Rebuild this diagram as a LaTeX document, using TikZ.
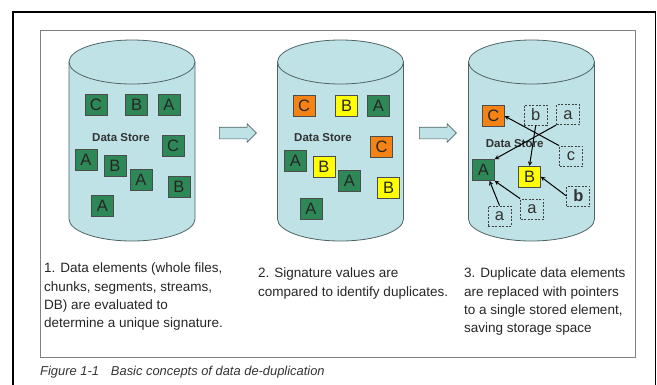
\documentclass[tikz,border=0pt]{standalone}
\usepackage{fontspec}
\setmainfont{Liberation Sans}
\usepackage{xcolor}
\usepackage{tikz}
\usetikzlibrary{arrows.meta, positioning}
\usetikzlibrary{shapes.arrows}

\definecolor{storefill}{RGB}{191,226,230}
\definecolor{storeline}{RGB}{80,100,100}
\definecolor{elgreen}{RGB}{46,135,86}
\definecolor{elorange}{RGB}{245,130,20}
\definecolor{elyellow}{RGB}{255,255,0}
\definecolor{boxgray}{RGB}{128,128,128}

\tikzset{
  store/.style = {fill=storefill, draw=storeline, line width=0.8pt},
  elem/.style = {draw=black!70, line width=0.6pt, minimum width=22pt, minimum height=21pt,
                 inner sep=0pt, font=\fontsize{16.5}{16.5}\selectfont, text=black!85},
  elg/.style = {elem, fill=elgreen},
  elo/.style = {elem, fill=elorange},
  ely/.style = {elem, fill=elyellow},
  dup/.style = {draw=black!75, dash pattern=on 2pt off 1.5pt, line width=0.8pt,
                minimum width=23pt, minimum height=20pt, inner sep=0pt,
                font=\fontsize{16.5}{16.5}\selectfont, text=black!80},
  storelabel/.style = {font=\fontsize{11.5}{12}\selectfont\bfseries, text=black!80},
  flow/.style = {single arrow, draw=storeline, fill=storefill, line width=0.6pt,
                 minimum height=37pt, single arrow head extend=3.5pt,
                 inner xsep=0pt, inner ysep=5.5pt},
  note/.style = {anchor=north west, inner sep=0pt, align=left,
                 font=\fontsize{13.5}{18.3}\selectfont, text=black!85}
}

% one data store drum, centred at x = #1
\newcommand{\datastore}[1]{%
  \draw[store] (#1-63,62) -- (#1-63,219)
    arc[start angle=180, end angle=360, x radius=63pt, y radius=22pt]
    -- (#1+63,62)
    arc[start angle=0, end angle=180, x radius=63pt, y radius=22pt] -- cycle;
  \draw[storeline, line width=0.8pt] (#1-63,62)
    arc[start angle=180, end angle=360, x radius=63pt, y radius=22pt];
}

\begin{document}
\begin{tikzpicture}[x=1pt, y=-1pt]
    \useasboundingbox (0,0) rectangle (657,384);
    \draw[line width=1.8pt] (13,400) -- (13,12) -- (655.5,12) -- (655.5,400);
    \draw[boxgray, line width=1pt] (40,30) rectangle (635,357);

    \datastore{132}
    \datastore{340.5}
    \datastore{531.5}

    % store 1: raw elements
    \node (s1c1) [elg] at (95.8,105) {C};
    \node (s1b1) [elg] at (136.7,105) {B};
    \node (s1a1) [elg] at (169,105) {A};
    \node (s1ds) [storelabel] at (121,138) {Data Store};
    \node (s1c2) [elg] at (173,146) {C};
    \node (s1a2) [elg] at (86,159.5) {A};
    \node (s1b2) [elg] at (115,166) {B};
    \node (s1a3) [elg] at (141,179.5) {A};
    \node (s1b3) [elg] at (179,187) {B};
    \node (s1a4) [elg] at (102.5,206) {A};

    % store 2: signatures compared
    \node (s2c1) [elo] at (304,106) {C};
    \node (s2b1) [ely] at (346.7,106) {B};
    \node (s2a1) [elg] at (378.5,106) {A};
    \node (s2ds) [storelabel] at (323,138) {Data Store};
    \node (s2c2) [elo] at (381.7,147) {C};
    \node (s2a2) [elg] at (295.3,161) {A};
    \node (s2b2) [ely] at (324,167) {B};
    \node (s2a3) [elg] at (349.5,181) {A};
    \node (s2b3) [ely] at (388.7,188) {B};
    \node (s2a4) [elg] at (311,209) {A};

    % store 3: duplicates become pointers
    \node (s3ds) [storelabel] at (514.7,144) {Data Store};
    \node (s3c) [elo] at (493.3,116) {C};
    \node (s3a) [elg] at (483.3,170) {A};
    \node (s3b) [ely] at (529.5,176.7) {B};
    \node (p1) [dup] at (535.7,115) {b};
    \node (p2) [dup] at (568,114.7) {a};
    \node (p3) [dup] at (571,156) {c};
    \node (p4) [dup] at (578.3,196) {\textbf{b}};
    \node (p5) [dup] at (532,209) {a};
    \node (p6) [dup] at (499.5,216) {a};
    \path [-stealth, line width=1pt]
    (p3.north west) edge (s3c.east)
    (p2.south west) edge (s3a.north east)
    (p1.south) edge (s3b.north)
    (p4.west) edge (s3b.east)
    (p5.north west) edge (s3a.south east)
    (p6.north) edge (s3a.-60);

    \node (go1) [flow] at (235,133) {};
    \node (go2) [flow] at (435,133) {};

    \node (n1) [note] at (44,263) {1. Data elements (whole files,\\chunks, segments, streams,\\DB) are evaluated to\\determine a unique signature.};
    \node (n2) [note] at (258,268) {2. Signature values are\\compared to identify duplicates.};
    \node (n3) [note] at (464,268) {3. Duplicate data elements\\are replaced with pointers\\to a single stored element,\\saving storage space};

    \node (cap) [anchor=base west, inner sep=0pt, text=black!80,
                 font=\fontsize{12.9}{14}\selectfont\itshape] at (40,375)
      {Figure 1-1\hspace{12pt}Basic concepts of data de-duplication};
\end{tikzpicture}
\end{document}
